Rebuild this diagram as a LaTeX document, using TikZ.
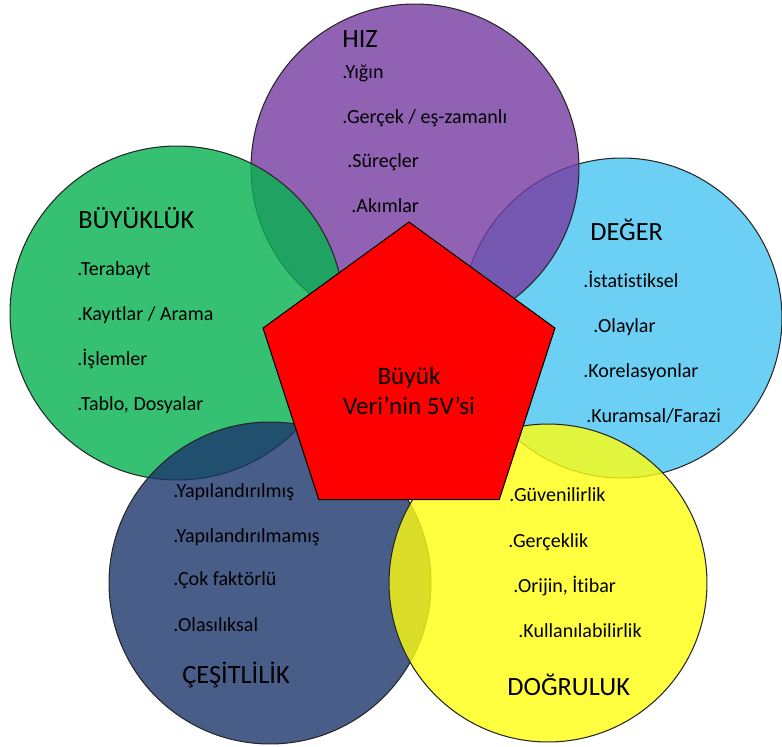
\documentclass[tikz,border=0pt]{standalone}
\usepackage{fontspec}
\setmainfont{Carlito}[Ligatures=NoCommon]
\usetikzlibrary{shapes.geometric}

\definecolor{hizc}{RGB}{118,59,161}
\definecolor{buyc}{RGB}{4,178,79}
\definecolor{degc}{RGB}{71,196,243}
\definecolor{cesc}{RGB}{28,52,108}
\definecolor{dogc}{RGB}{255,255,16}

\begin{document}
\begin{tikzpicture}[
    x=0.02cm, y=-0.02cm,
    bubble/.style={circle,draw=black!85,line width=0.6pt,fill opacity=0.8,inner sep=0pt},
    penta/.style={regular polygon,regular polygon sides=5,draw=black,line width=0.6pt,fill=red,inner sep=0pt,minimum size=6.14cm},
    hdr/.style={anchor=base west,inner sep=0pt,font=\fontsize{15}{18}\selectfont},
    itm/.style={anchor=base west,inner sep=0pt,font=\fontsize{11.4}{14}\selectfont}
]

\useasboundingbox (0,0) rectangle (782,747);

\node[bubble,fill=degc,minimum size=6.4cm] (deger) at (622,318) {};
\node[bubble,fill=hizc,minimum size=6.56cm] (hiz) at (415,168) {};
\node[bubble,fill=buyc,minimum size=6.68cm] (buyukluk) at (177,313) {};
\node[bubble,fill=cesc,minimum size=6.44cm] (cesitlilik) at (270,583) {};
\node[bubble,fill=dogc,minimum size=6.36cm] (dogruluk) at (548,583) {};

\node[penta] (center) at (409,375.5) {};
\node[align=center,font=\fontsize{14.3}{17}\selectfont] (title) at (409,391) {Büyük\\Veri’nin 5V’si};

\node[hdr] (h1) at (342,48) {HIZ};
\node[itm] (h2) at (342,78) {.Yığın};
\node[itm] (h3) at (342,123) {.Gerçek / eş-zamanlı};
\node[itm] (h4) at (347,167) {.Süreçler};
\node[itm] (h5) at (351,212) {.Akımlar};

\node[hdr] (b1) at (78,228) {BÜYÜKLÜK};
\node[itm] (b2) at (77,275) {.Terabayt};
\node[itm] (b3) at (77,320) {.Kayıtlar / Arama};
\node[itm] (b4) at (77,365) {.İşlemler};
\node[itm] (b5) at (77,410) {.Tablo, Dosyalar};

\node[hdr] (d1) at (590,240) {DEĞER};
\node[itm] (d2) at (583,287) {.İstatistiksel};
\node[itm] (d3) at (593,332) {.Olaylar};
\node[itm] (d4) at (583,377) {.Korelasyonlar};
\node[itm] (d5) at (586,422) {.Kuramsal/Farazi};

\node[itm] (c1) at (173,497) {.Yapılandırılmış};
\node[itm] (c2) at (173,542) {.Yapılandırılmamış};
\node[itm] (c3) at (173,585) {.Çok faktörlü};
\node[itm] (c4) at (173,631) {.Olasılıksal};
\node[hdr] (c5) at (182,683) {ÇEŞİTLİLİK};

\node[itm] (g1) at (509,501) {.Güvenilirlik};
\node[itm] (g2) at (508,547) {.Gerçeklik};
\node[itm] (g3) at (513,592) {.Orijin, İtibar};
\node[itm] (g4) at (518,637) {.Kullanılabilirlik};
\node[hdr] (g5) at (507,695) {DOĞRULUK};

\end{tikzpicture}
\end{document}
